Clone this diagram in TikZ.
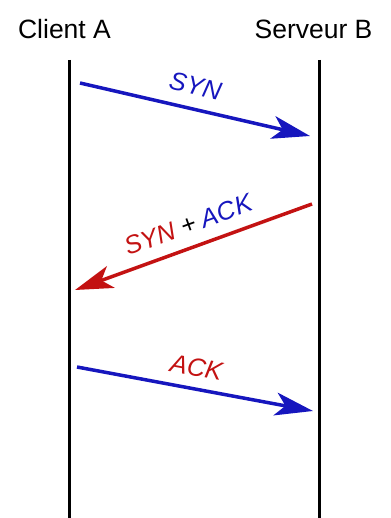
\documentclass[tikz,border=0pt]{standalone}
\usepackage{fontspec}
\setmainfont{Liberation Sans}
\usetikzlibrary{arrows.meta}
\definecolor{synblue}{RGB}{22,22,190}
\definecolor{ackred}{RGB}{195,18,18}
\tikzset{
  lifeline/.style={line width=3.5pt, black},
  msg/.style={line width=3.5pt, -{Stealth[length=38pt, width=23pt, inset=10pt]}},
  title/.style={font=\fontsize{26.5}{30}\selectfont, anchor=base, inner sep=0pt},
  lbl/.style={font=\fontsize{25.5}{29}\selectfont\itshape, inner sep=0pt, sloped}
}
\begin{document}
\begin{tikzpicture}[x=1pt,y=-1pt]
\useasboundingbox (0,0) rectangle (390,518);
\node[title] (ta) at (64.5,38.5) {Client A};
\node[title] (tb) at (313.5,38.5) {Serveur B};
\coordinate (a0) at (69.5,60);
\coordinate (a1) at (69.5,518);
\coordinate (b0) at (319.5,60);
\coordinate (b1) at (319.5,518);
\draw[lifeline] (a0) -- (a1);
\draw[lifeline] (b0) -- (b1);
\coordinate (s1) at (80,83);
\coordinate (s2) at (310,136);
\coordinate (r1) at (312,204);
\coordinate (r2) at (75,290);
\coordinate (k1) at (77,367);
\coordinate (k2) at (313,411);
\draw[msg, synblue] (s1) -- node[lbl, above=12pt, pos=0.48, text=synblue] (ls) {SYN} (s2);
\draw[msg, ackred] (r1) -- node[lbl, above=12pt, pos=0.49] (lr) {\textcolor{ackred}{SYN} \textcolor{black}{+} \textcolor{synblue}{ACK}} (r2);
\draw[msg, synblue] (k1) -- node[lbl, above=10.5pt, pos=0.49, text=ackred] (lk) {ACK} (k2);
\end{tikzpicture}
\end{document}
